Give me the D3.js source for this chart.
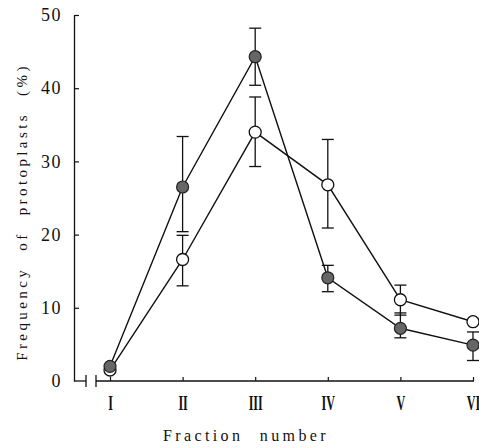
<!DOCTYPE html>
<html>
<head>
<meta charset="utf-8">
<script src="https://d3js.org/d3.v7.min.js"></script>
<style>
  body { margin: 0; background: #fff; }
  text { font-family: "Liberation Serif", "DejaVu Serif", serif; fill: #111; }
</style>
</head>
<body>
<script>
var fractions = ["I", "II", "III", "IV", "V", "VI"];
var yTicks = [0, 10, 20, 30, 40, 50];

// filled circles
var filledMean = [2.0, 26.5, 44.3, 14.1, 7.2, 4.9];
var filledLow  = [null, 20.4, 40.4, 12.2, 5.9, 2.8];
var filledHigh = [null, 33.4, 48.2, 15.8, 9.3, 6.7];

// open circles
var openMean = [1.5, 16.6, 34.0, 26.8, 11.1, 8.1];
var openLow  = [null, 13.0, 29.3, 20.9, 9.0, null];
var openHigh = [null, 19.9, 38.8, 33.0, 13.1, null];

var W = 479, H = 448;
var svg = d3.select("body").append("svg").attr("width", W).attr("height", H);

var x = d3.scalePoint().domain(fractions).range([110, 473]);
var y = d3.scaleLinear().domain([0, 50]).range([381, 15]);
var axisX0 = 74;

// y axis
var gy = svg.append("g").attr("transform", "translate(" + axisX0 + ",0)")
  .call(d3.axisLeft(y).tickValues(yTicks).tickSizeInner(-5).tickSizeOuter(0).tickPadding(12));
gy.select(".domain").attr("stroke", "#111").attr("stroke-width", 1.3);
gy.selectAll(".tick line").attr("stroke", "#111").attr("stroke-width", 1.2);
gy.selectAll(".tick text").style("font-size", "18px").style("letter-spacing", "1.5px");
gy.selectAll(".tick").filter(function(d) { return d === 0; }).select("line").remove();

// x axis with break
var gx = svg.append("g").attr("transform", "translate(0," + y(0) + ")")
  .call(d3.axisBottom(x).tickSizeInner(-4).tickSizeOuter(0).tickPadding(13));
gx.select(".domain").remove();
gx.selectAll(".tick line").attr("stroke", "#111").attr("stroke-width", 1.2);
gx.selectAll(".tick text")
  .style("font-size", "22px").style("font-weight", "bold")
  .attr("transform", "scale(0.55,1)");

var breakA = 86, breakB = 96;
var ax = svg.append("g").attr("stroke", "#111").attr("stroke-width", 1.3);
ax.append("line").attr("x1", axisX0).attr("x2", breakA).attr("y1", y(0)).attr("y2", y(0));
ax.append("line").attr("x1", breakB).attr("x2", x("VI") + 1).attr("y1", y(0)).attr("y2", y(0));
ax.append("line").attr("x1", breakA).attr("x2", breakA).attr("y1", y(0) - 6).attr("y2", y(0) + 6);
ax.append("line").attr("x1", breakB).attr("x2", breakB).attr("y1", y(0) - 6).attr("y2", y(0) + 6);

// lines
var line = d3.line().x(function(d, i) { return x(fractions[i]); }).y(function(d) { return y(d); });
svg.append("path").datum(filledMean).attr("d", line)
  .attr("fill", "none").attr("stroke", "#111").attr("stroke-width", 1.4);
svg.append("path").datum(openMean).attr("d", line)
  .attr("fill", "none").attr("stroke", "#111").attr("stroke-width", 1.4);

// error bars
function errorBars(low, high) {
  var g = svg.append("g").attr("stroke", "#111").attr("stroke-width", 1.3);
  fractions.forEach(function(f, i) {
    if (low[i] == null) return;
    var cx = x(f);
    g.append("line").attr("x1", cx).attr("x2", cx).attr("y1", y(low[i])).attr("y2", y(high[i]));
    g.append("line").attr("x1", cx - 6).attr("x2", cx + 6).attr("y1", y(low[i])).attr("y2", y(low[i]));
    g.append("line").attr("x1", cx - 6).attr("x2", cx + 6).attr("y1", y(high[i])).attr("y2", y(high[i]));
  });
}
errorBars(filledLow, filledHigh);
errorBars(openLow, openHigh);

// markers
svg.append("g").selectAll("circle").data(openMean).join("circle")
  .attr("cx", function(d, i) { return x(fractions[i]); })
  .attr("cy", function(d) { return y(d); })
  .attr("r", 6).attr("fill", "#fff").attr("stroke", "#111").attr("stroke-width", 1.3);
svg.append("g").selectAll("circle").data(filledMean).join("circle")
  .attr("cx", function(d, i) { return x(fractions[i]); })
  .attr("cy", function(d) { return y(d); })
  .attr("r", 6).attr("fill", "#666").attr("stroke", "#222").attr("stroke-width", 1.2);

// axis titles
svg.append("text")
  .attr("transform", "translate(27,212) rotate(-90)")
  .attr("text-anchor", "middle")
  .style("font-size", "15px").style("letter-spacing", "3.4px").style("word-spacing", "9px")
  .text("Frequency of protoplasts (%)");

svg.append("text")
  .attr("x", 246).attr("y", 441)
  .attr("text-anchor", "middle")
  .style("font-size", "16px").style("letter-spacing", "3.4px").style("word-spacing", "9px")
  .text("Fraction number");
</script>
</body>
</html>
